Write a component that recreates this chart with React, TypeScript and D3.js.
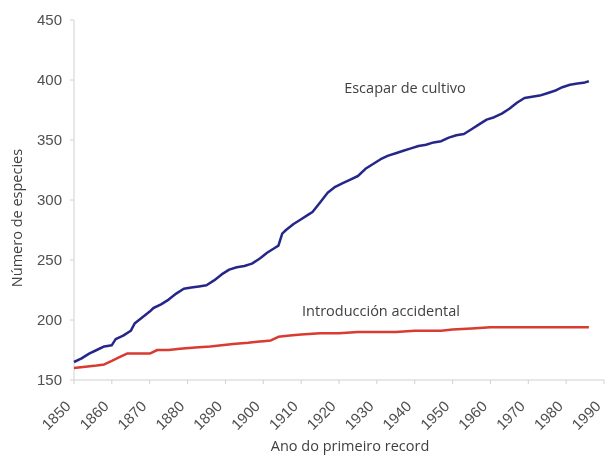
import React from "react";
import * as d3 from "d3";

const cultivoYears = [1850,1852,1854,1856,1858,1860,1861,1863,1865,1866,1868,1870,1871,1873,1875,1877,1879,1881,1883,1885,1887,1889,1891,1893,1895,1897,1899,1901,1903,1904,1905,1906,1908,1910,1912,1913,1915,1917,1919,1921,1923,1925,1927,1929,1931,1933,1935,1937,1939,1941,1943,1945,1947,1949,1951,1953,1955,1957,1959,1961,1963,1965,1967,1969,1971,1973,1975,1977,1979,1981,1983,1985,1986];
const cultivoValues = [165,168,172,175,178,179,184,187,191,197,202,207,210,213,217,222,226,227,228,229,233,238,242,244,245,247,251,256,260,262,272,275,280,284,288,290,298,306,311,314,317,320,326,330,334,337,339,341,343,345,346,348,349,352,354,355,359,363,367,369,372,376,381,385,386,387,389,391,394,396,397,398,399];

const accidentalYears = [1850,1853,1856,1858,1860,1862,1864,1867,1870,1872,1875,1878,1882,1886,1889,1892,1896,1899,1902,1904,1907,1910,1915,1920,1925,1930,1935,1940,1947,1950,1955,1960,1970,1980,1986];
const accidentalValues = [160,161,162,163,166,169,172,172,172,175,175,176,177,178,179,180,181,182,183,186,187,188,189,189,190,190,190,191,191,192,193,194,194,194,194];

const yTicks = [150,200,250,300,350,400,450];
const xTicks = [1850,1860,1870,1880,1890,1900,1910,1920,1930,1940,1950,1960,1970,1980,1990];

const yTitle = "Número de especies";
const xTitle = "Ano do primeiro record";
const labelCultivo = "Escapar de cultivo";
const labelAccidental = "Introducción accidental";

export default function App() {
  const W = 605, H = 458;
  const x = d3.scaleLinear().domain([1850, 1990]).range([74, 604]);
  const y = d3.scaleLinear().domain([150, 450]).range([380, 20]);
  const line = d3.line<[number, number]>().x(d => x(d[0])).y(d => y(d[1]));
  const cultivo = cultivoYears.map((yr, i) => [yr, cultivoValues[i]] as [number, number]);
  const accidental = accidentalYears.map((yr, i) => [yr, accidentalValues[i]] as [number, number]);
  const tickFont = "'Liberation Sans', Arial, sans-serif";
  const textFont = "'Open Sans', sans-serif";
  return (
    <svg width={W} height={H} style={{ position: "absolute", left: 0, top: 0, background: "#fff" }}>
      <defs>
        <filter id="soft" x="-5%" y="-5%" width="110%" height="110%">
          <feGaussianBlur stdDeviation="0.5" />
        </filter>
      </defs>
      <rect x={0} y={0} width={W} height={H} fill="#fff" />
      <g filter="url(#soft)">
        <line x1={74} x2={74} y1={y(450)} y2={y(150)} stroke="#d0d0d0" strokeWidth={1} />
        <line x1={74} x2={604} y1={y(150)} y2={y(150)} stroke="#d0d0d0" strokeWidth={1} />
        {yTicks.map(t => (
          <g key={"y" + t}>
            <line x1={70} x2={74} y1={y(t)} y2={y(t)} stroke="#d0d0d0" />
            <text x={62} y={y(t)} dy="0.35em" textAnchor="end" fontFamily={tickFont} fontSize={15} fill="#505050">{t}</text>
          </g>
        ))}
        {xTicks.map(t => (
          <g key={"x" + t}>
            <line x1={x(t)} x2={x(t)} y1={380} y2={384} stroke="#d0d0d0" />
            <text transform={`translate(${x(t) - 6},403.5) rotate(-45)`} dy="0.35em" textAnchor="end" fontFamily={tickFont} fontSize={15} fill="#505050">{t}</text>
          </g>
        ))}
        <path d={line(accidental) || ""} fill="none" stroke="#d83a30" strokeWidth={2.5} strokeLinejoin="round" />
        <path d={line(cultivo) || ""} fill="none" stroke="#26288a" strokeWidth={2.5} strokeLinejoin="round" />
        <text x={405} y={88} dy="0.35em" textAnchor="middle" fontFamily={textFont} fontSize={14.5} fill="#404040">{labelCultivo}</text>
        <text x={381} y={311} dy="0.35em" textAnchor="middle" fontFamily={textFont} fontSize={14.5} fill="#404040">{labelAccidental}</text>
        <text transform="translate(17,218) rotate(-90)" dy="0.35em" textAnchor="middle" fontFamily={textFont} fontSize={14.5} fill="#404040">{yTitle}</text>
        <text x={350} y={446} dy="0.35em" textAnchor="middle" fontFamily={textFont} fontSize={14.5} fill="#404040">{xTitle}</text>
      </g>
    </svg>
  );
}
